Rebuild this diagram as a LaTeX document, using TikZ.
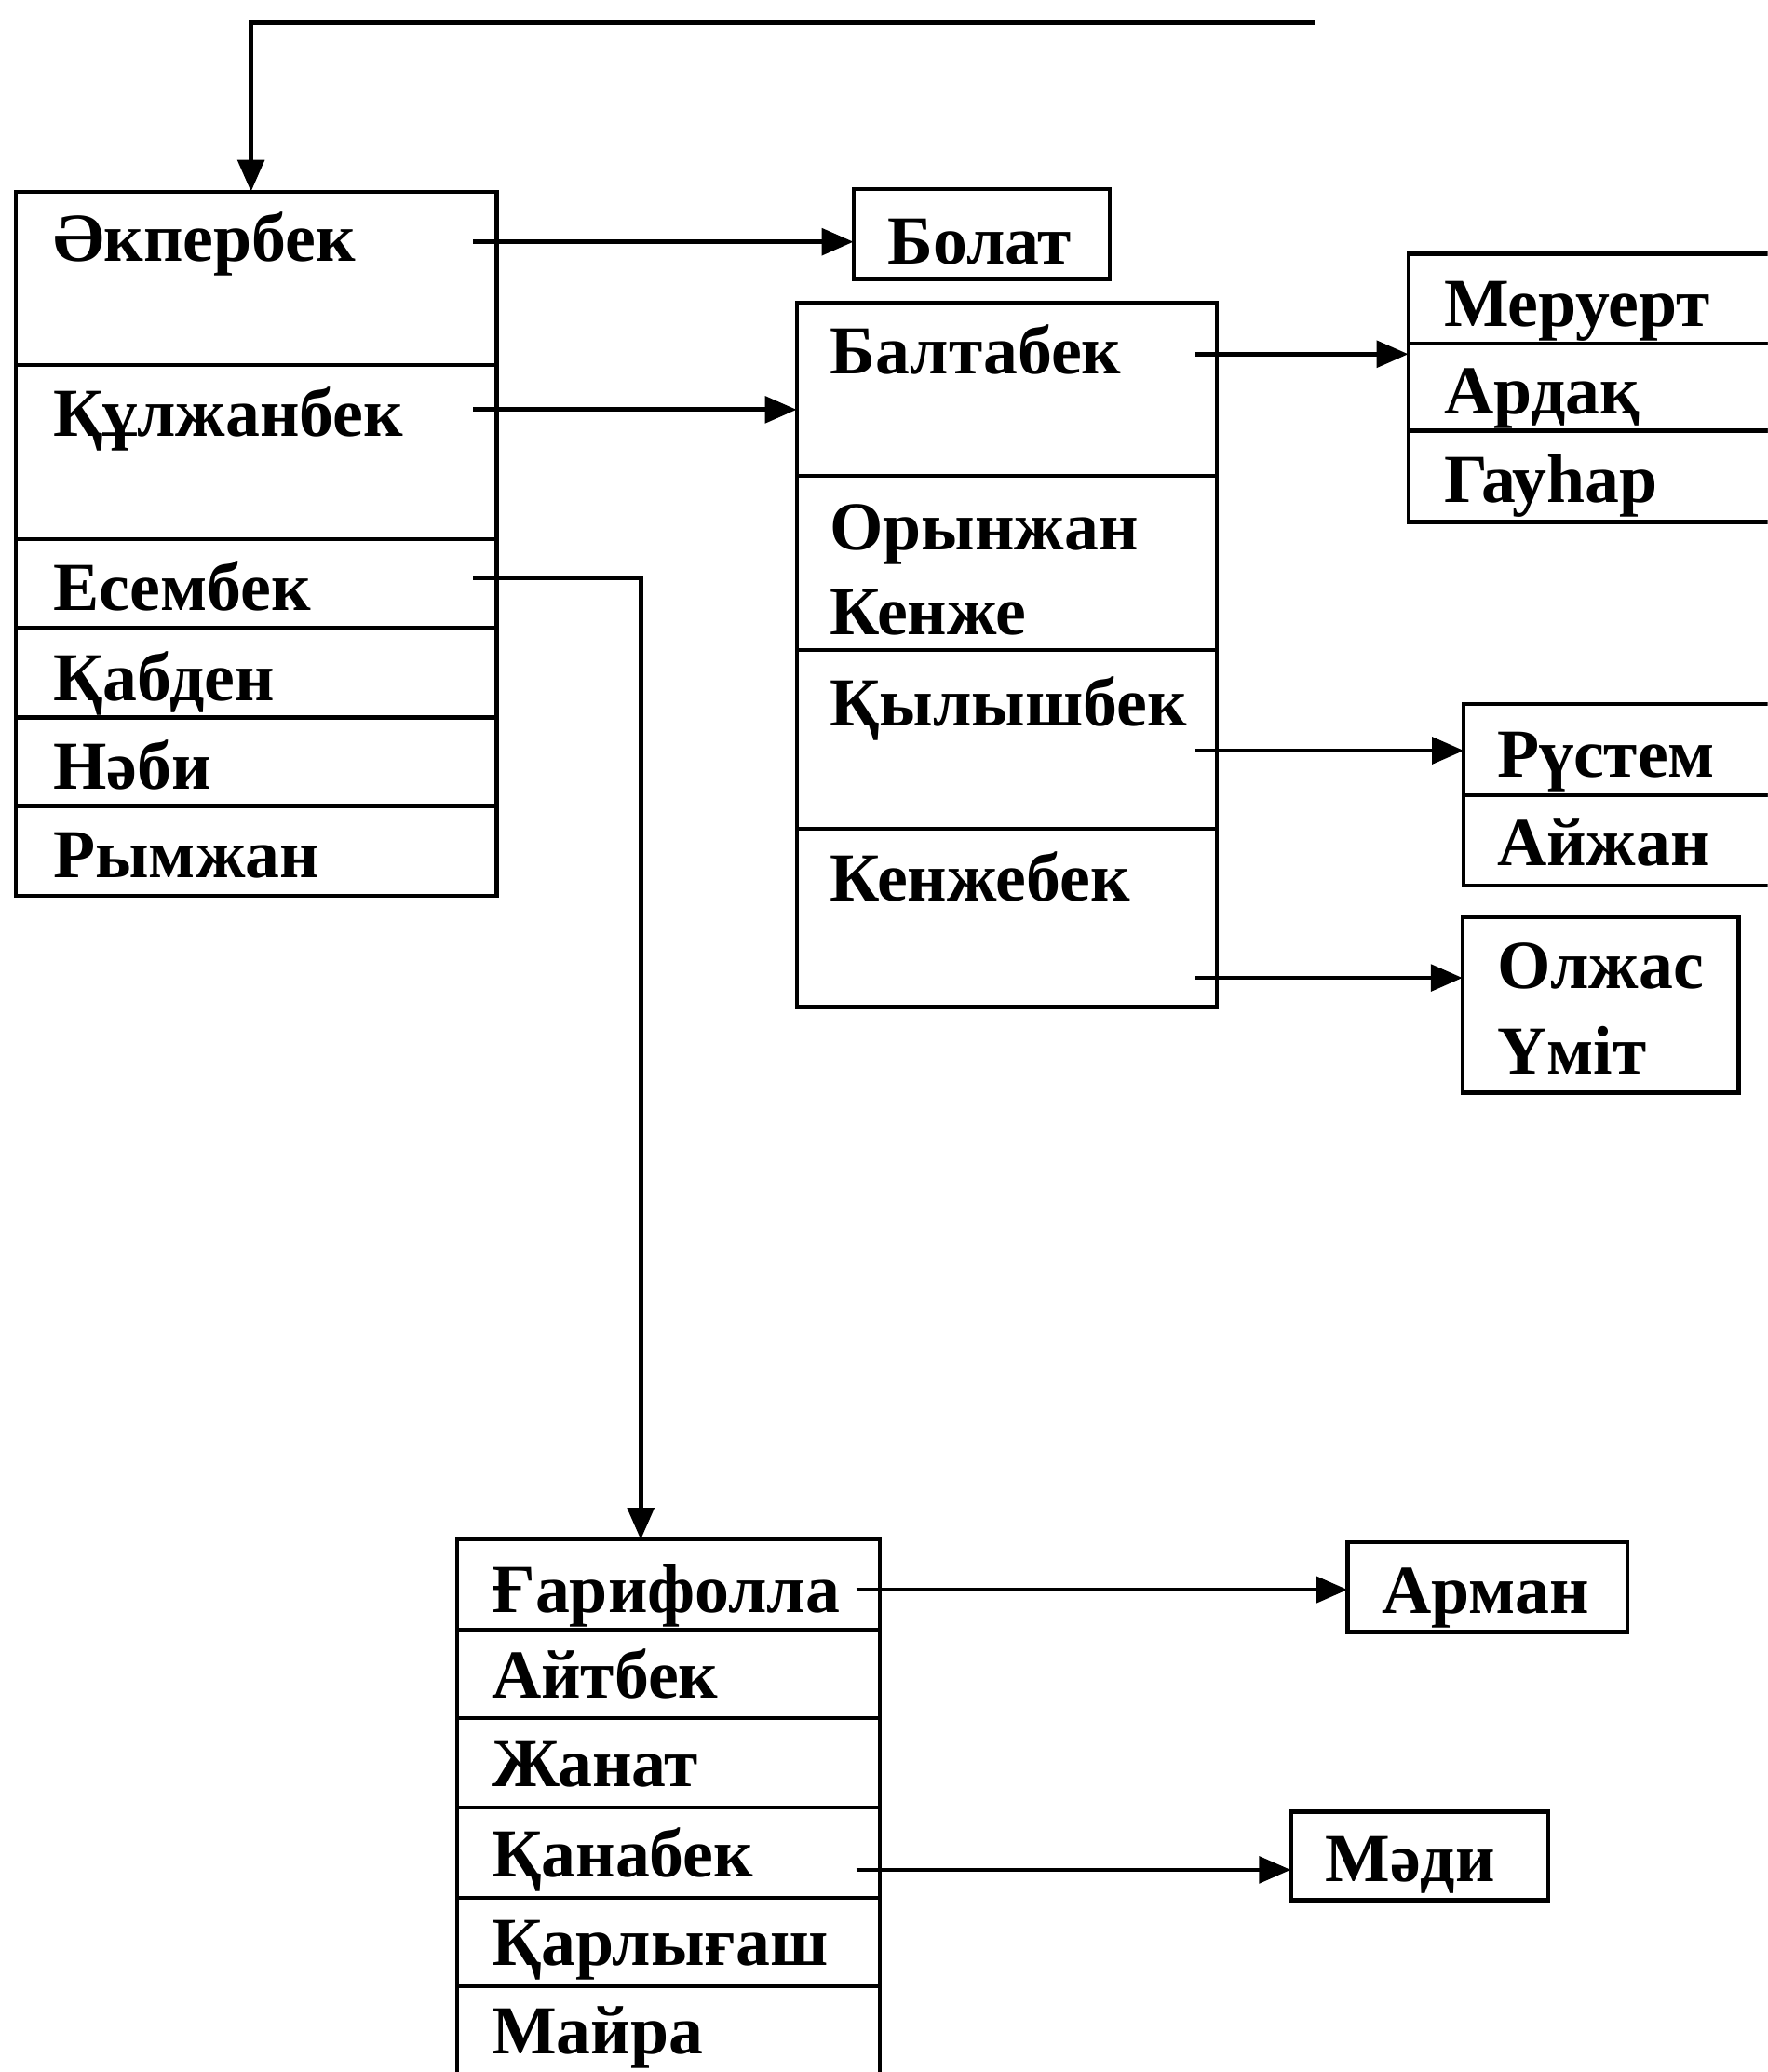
\documentclass[tikz,border=0pt]{standalone}
\usepackage{fontspec}
\setmainfont{Liberation Serif}
\usetikzlibrary{arrows.meta}
\begin{document}
\begin{tikzpicture}[x=1pt,y=-1pt,
  cell/.style={draw, line width=3pt, inner sep=0pt, outer sep=0pt, anchor=north west},
  nm/.style={anchor=base west, inner sep=0pt, font=\fontsize{52pt}{60pt}\selectfont\bfseries},
  arr/.style={line width=3.4pt, -{Triangle[length=24pt,width=20pt]}},
  ln/.style={line width=3.4pt}]
\useasboundingbox (0,0) rectangle (1338,1568);
\begin{scope}
\clip (0,0) rectangle (1338,1568);
% left stack
\node[cell, minimum width=364pt, minimum height=131pt] (akp) at (12,145) {};
\node[cell, minimum width=364pt, minimum height=132pt] (kul) at (12,276) {};
\node[cell, minimum width=364pt, minimum height=67pt] (ese) at (12,408) {};
\node[cell, minimum width=364pt, minimum height=68pt] (kab) at (12,475) {};
\node[cell, minimum width=364pt, minimum height=67pt] (nab) at (12,543) {};
\node[cell, minimum width=364pt, minimum height=68pt] (rym) at (12,610) {};
\node[nm] (takp) at (40,198) {Әкпербек};
\node[nm] (tkul) at (40,330) {Құлжанбек};
\node[nm] (tese) at (40,462) {Есембек};
\node[nm] (tkab) at (40,530) {Қабден};
\node[nm] (tnab) at (40,597) {Нәби};
\node[nm] (trym) at (40,664) {Рымжан};
% Bolat
\node[cell, minimum width=194pt, minimum height=68pt] (bol) at (646,143) {};
\node[nm] (tbol) at (672,200) {Болат};
% middle stack
\node[cell, minimum width=318pt, minimum height=131pt] (bal) at (603,229) {};
\node[cell, minimum width=318pt, minimum height=132pt] (ory) at (603,360) {};
\node[cell, minimum width=318pt, minimum height=135pt] (kyl) at (603,492) {};
\node[cell, minimum width=318pt, minimum height=135pt] (ken) at (603,627) {};
\node[nm] (tbal) at (628,283) {Балтабек};
\node[nm] (tory) at (628,416) {Орынжан};
\node[nm] (tkenz) at (628,480) {Кенже};
\node[nm] (tkyl) at (628,549) {Қылышбек};
\node[nm] (tken) at (628,682) {Кенжебек};
% right stack 1
\node[cell, minimum width=290pt, minimum height=68pt] (mer) at (1066,192) {};
\node[cell, minimum width=290pt, minimum height=66pt] (ard) at (1066,260) {};
\node[cell, minimum width=290pt, minimum height=69pt] (gau) at (1066,326) {};
\node[nm] (tmer) at (1093,247) {Меруерт};
\node[nm] (tard) at (1093,313) {Ардақ};
\node[nm] (tgau) at (1093,380) {Гауһар};
% right stack 2
\node[cell, minimum width=250pt, minimum height=69pt] (rus) at (1108,533) {};
\node[cell, minimum width=250pt, minimum height=68pt] (ayz) at (1108,602) {};
\node[nm] (trus) at (1133,588) {Рүстем};
\node[nm] (tayz) at (1133,655) {Айжан};
% right box 3
\node[cell, minimum width=209pt, minimum height=133pt] (olz) at (1107,694) {};
\node[nm] (tolz) at (1133,748) {Олжас};
\node[nm] (tumi) at (1133,813) {Үміт};
% bottom stack
\node[cell, minimum width=320pt, minimum height=68pt] (gar) at (346,1165) {};
\node[cell, minimum width=320pt, minimum height=67pt] (ayt) at (346,1233) {};
\node[cell, minimum width=320pt, minimum height=68pt] (zha) at (346,1300) {};
\node[cell, minimum width=320pt, minimum height=68pt] (kan) at (346,1368) {};
\node[cell, minimum width=320pt, minimum height=67pt] (kar) at (346,1436) {};
\node[cell, minimum width=320pt, minimum height=75pt] (may) at (346,1503) {};
\node[nm] (tgar) at (372,1220) {Ғарифолла};
\node[nm] (tayt) at (372,1285) {Айтбек};
\node[nm] (tzha) at (372,1352) {Жанат};
\node[nm] (tkan) at (372,1420) {Қанабек};
\node[nm] (tkar) at (372,1487) {Қарлығаш};
\node[nm] (tmay) at (372,1554) {Майра};
% Arman, Madi
\node[cell, minimum width=212pt, minimum height=68pt] (arm) at (1020,1167) {};
\node[nm] (tarm) at (1046,1221) {Арман};
\node[cell, minimum width=195pt, minimum height=67pt] (mad) at (977,1371) {};
\node[nm] (tmad) at (1003,1424) {Мәди};
% connector start points
\coordinate (topR) at (995,17);
\coordinate (topC) at (190,17);
\coordinate (sAkp) at (358,183);
\coordinate (sKul) at (358,310);
\coordinate (sEse) at (358,437);
\coordinate (cEse) at (485,437);
\coordinate (sBal) at (905,268);
\coordinate (sKyl) at (905,568);
\coordinate (sKen) at (905,740);
\coordinate (sGar) at (648,1203);
\coordinate (sKan) at (648,1415);
% connectors
\draw[arr] (topR) -- (topC) -- (topC |- akp.north);
\draw[arr] (sAkp) -- (sAkp -| bol.west);
\draw[arr] (sKul) -- (sKul -| bal.west);
\draw[arr] (sEse) -- (cEse) -- (cEse |- gar.north);
\draw[arr] (sBal) -- (sBal -| mer.west);
\draw[arr] (sKyl) -- (sKyl -| rus.west);
\draw[arr] (sKen) -- (sKen -| olz.west);
\draw[arr] (sGar) -- (sGar -| arm.west);
\draw[arr] (sKan) -- (sKan -| mad.west);
\end{scope}
\end{tikzpicture}
\end{document}
